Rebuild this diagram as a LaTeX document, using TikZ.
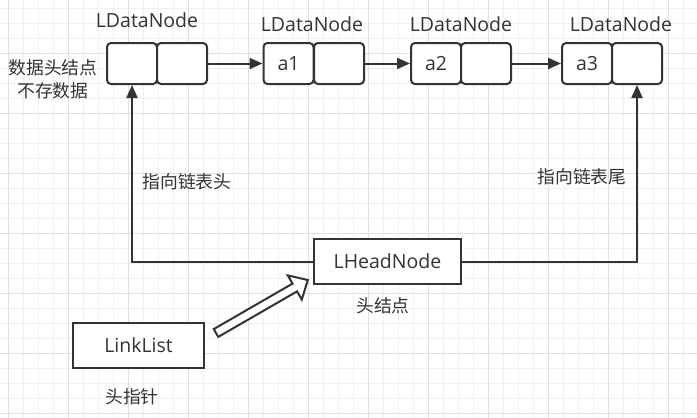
\documentclass[tikz,border=0pt]{standalone}
\usepackage{fontspec}
\setmainfont{Open Sans}
\newfontfamily\cjk{Noto Sans CJK SC}
\usetikzlibrary{arrows.meta}
\definecolor{ink}{HTML}{333333}
\definecolor{gridminor}{HTML}{F0F0F0}
\definecolor{gridmajor}{HTML}{E0E0E0}
\tikzset{
  cell/.style={draw=ink, line width=2pt, rounded corners=4pt, minimum width=50pt, minimum height=41pt, inner sep=0pt, fill=white, text=ink},
  plainbox/.style={draw=ink, line width=2pt, inner sep=0pt, fill=white, text=ink},
  lbl/.style={text=ink, inner sep=0pt},
  zh/.style={text=ink, inner sep=0pt, font=\cjk\fontsize{17.8}{23}\selectfont},
  conn/.style={draw=ink, line width=2pt, -{Triangle[length=13pt,width=11pt]}},
}
\begin{document}
\begin{tikzpicture}[x=1pt,y=-1pt, font=\fontsize{19.5}{22}\selectfont]
\useasboundingbox (0,0) rectangle (697,418);
\fill[white] (0,0) rectangle (697,418);
% grid
\foreach \i in {0,...,46} {\draw[gridminor, line width=1pt] ({8.33+15*\i},0) -- ({8.33+15*\i},418);}
\foreach \i in {0,...,27} {\draw[gridminor, line width=1pt] (0,{8.33+15*\i}) -- (697,{8.33+15*\i});}
\foreach \i in {0,...,11} {\draw[gridmajor, line width=1pt] ({8.33+60*\i},0) -- ({8.33+60*\i},418);}
\foreach \i in {0,...,6} {\draw[gridmajor, line width=1pt] (0,{53.33+60*\i}) -- (697,{53.33+60*\i});}

% data nodes
\node[cell] (b1l) at (132,63.5) {};
\node[cell] (b1r) at (182,63.5) {};
\node[cell] (b2l) at (288.5,63.5) {a1};
\node[cell] (b2r) at (339,63.5) {};
\node[cell] (b3l) at (436,63.5) {a2};
\node[cell] (b3r) at (486,63.5) {};
\node[cell] (b4l) at (587,63.5) {a3};
\node[cell] (b4r) at (637,63.5) {};

\node[lbl] (t1) at (147,20) {LDataNode};
\node[lbl] (t2) at (312,24) {LDataNode};
\node[lbl] (t3) at (461,24) {LDataNode};
\node[lbl] (t4) at (621,24) {LDataNode};

\node[zh, align=center] (note) at (53,79.5) {数据头结点\\不存数据};

% head node
\node[plainbox, minimum width=147pt, minimum height=45pt] (hn) at (387.5,261.5) {LHeadNode};
\node[zh] (hnl) at (383,306) {头结点};

% linklist
\node[plainbox, minimum width=131pt, minimum height=45pt] (ll) at (138.5,345.5) {LinkList};
\node[zh] (lll) at (132,397) {头指针};

\node[zh] (lh) at (187,182) {指向链表头};
\node[zh] (lt) at (582,177) {指向链表尾};

% connectors
\draw[conn] (b1r.east) -- (b2l.west);
\draw[conn] (b2r.east) -- (b3l.west);
\draw[conn] (b3r.east) -- (b4l.west);
\draw[conn] (hn.west) -| (b1l.south);
\draw[conn] (hn.east) -| (b4r.south);

% hollow block arrow from LinkList to LHeadNode
\coordinate (fa1) at (213.75,329.1);
\coordinate (fa2) at (292.55,283.6);
\coordinate (fa3) at (287.8,275.4);
\coordinate (fa4) at (307.8,280);
\coordinate (fa5) at (301.8,299.6);
\coordinate (fa6) at (297.05,291.4);
\coordinate (fa7) at (218.25,336.9);
\draw[ink, fill=white, line width=2pt, line join=miter] (fa1) -- (fa2) -- (fa3) -- (fa4) -- (fa5) -- (fa6) -- (fa7) -- cycle;
\end{tikzpicture}
\end{document}
